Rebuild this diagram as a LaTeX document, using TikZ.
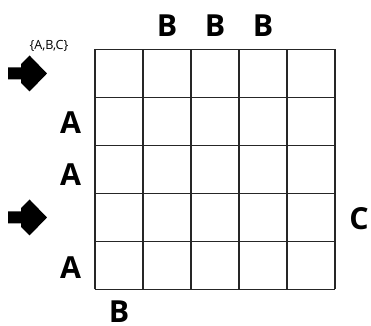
\documentclass[tikz,border=0pt]{standalone}
\usepackage{fontspec}
\setmainfont{Open Sans}
\usetikzlibrary{positioning}

\begin{document}
\begin{tikzpicture}[
    clue/.style={font=\fontsize{18}{20}\selectfont\bfseries, inner sep=0pt},
    note/.style={font=\fontsize{7.5}{9}\selectfont, inner sep=0pt},
    cell/.style={line width=0.7pt, black!85},
    pointer/.style={fill=black}
]
\useasboundingbox (-1.979,-0.740) rectangle (5.750,6.031);

% ------------------ Grid ------------------
\draw[cell] (0,0) grid (5,5);

% ------------------ Top clues ------------------
\node[clue] (topB2) at (1.5,5.49) {B};
\node[clue] (topB3) at (2.5,5.49) {B};
\node[clue] (topB4) at (3.5,5.49) {B};

% ------------------ Left clues ------------------
\node[note] (choices) at (-0.958,5.07) {\{A,B,C\}};
\node[clue] (leftA2) at (-0.506,3.47) {A};
\node[clue] (leftA3) at (-0.506,2.40) {A};
\node[clue] (leftA5) at (-0.506,0.45) {A};

% ------------------ Right and bottom clues ------------------
\node[clue] (rightC4) at (5.5,1.47) {C};
\node[clue] (bottomB1) at (0.5,-0.47) {B};

% ------------------ Entry arrows ------------------
\fill[pointer, shift={(-1.406,4.5)}]
    (-0.406,0.125) -- (-0.135,0.125) -- (-0.135,0.198) -- (0.042,0.375) -- (0.406,0)
    -- (0.042,-0.375) -- (-0.135,-0.198) -- (-0.135,-0.125) -- (-0.406,-0.125) -- cycle;
\fill[pointer, shift={(-1.406,1.5)}]
    (-0.406,0.125) -- (-0.135,0.125) -- (-0.135,0.198) -- (0.042,0.375) -- (0.406,0)
    -- (0.042,-0.375) -- (-0.135,-0.198) -- (-0.135,-0.125) -- (-0.406,-0.125) -- cycle;

\end{tikzpicture}
\end{document}
